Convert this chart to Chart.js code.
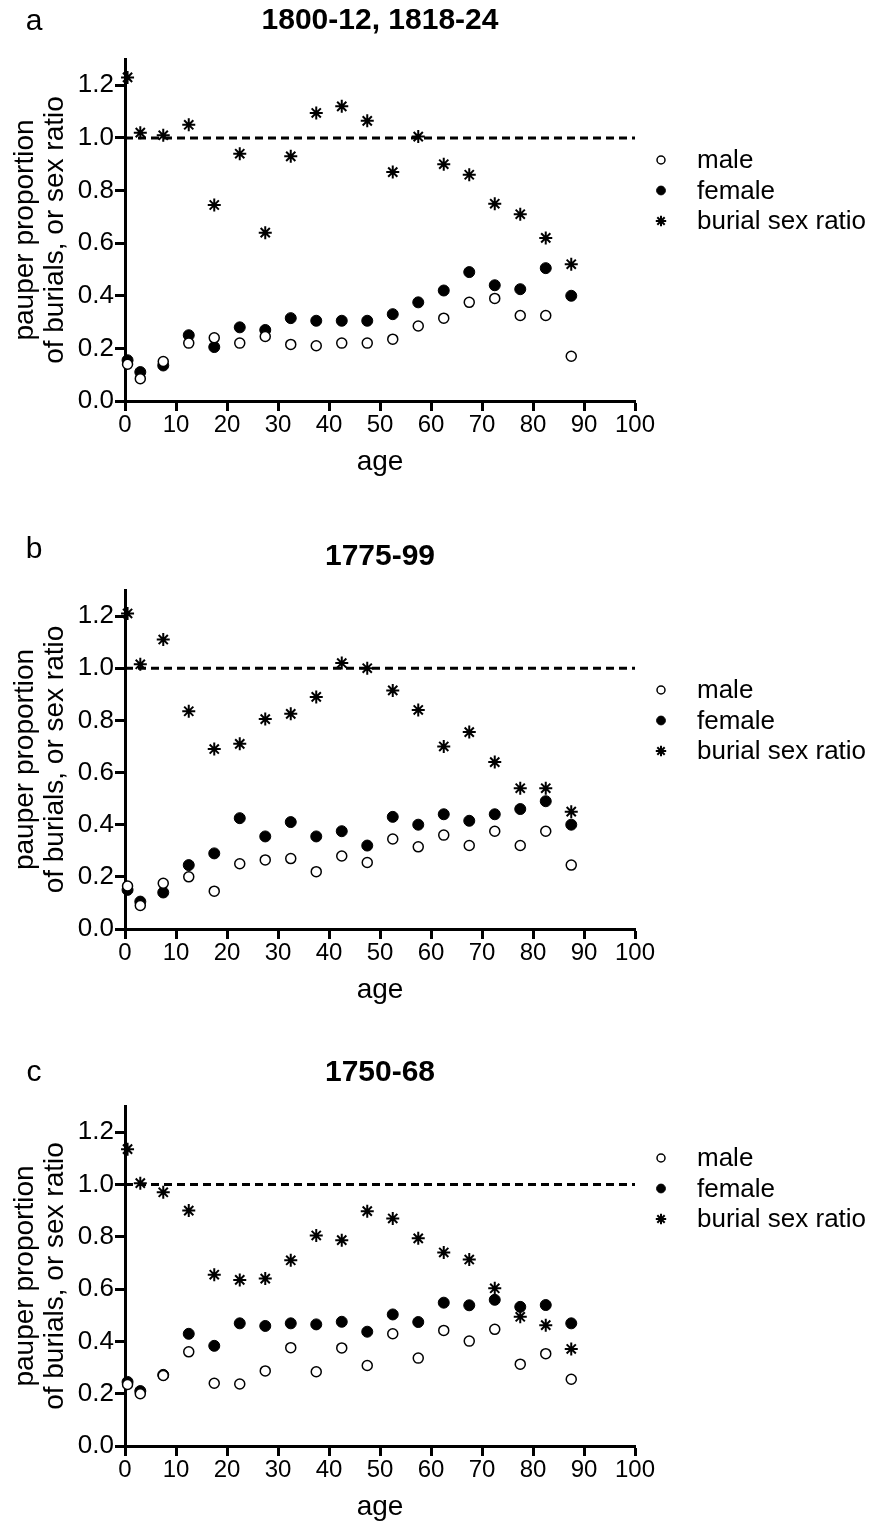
<!DOCTYPE html>
<html>
<head>
<meta charset="utf-8">
<script src="https://cdn.jsdelivr.net/npm/chart.js@4.4.1/dist/chart.umd.min.js"></script>
<style>
  html, body { margin: 0; padding: 0; background: #fff; }
  #wrap { position: relative; width: 877px; height: 1527px; }
  .panel { position: absolute; left: 0; width: 877px; }
  canvas { display: block; }
</style>
</head>
<body>
<div id="wrap">
  <div class="panel" style="top:0px"><canvas id="panelA" width="877" height="500"></canvas></div>
  <div class="panel" style="top:510px"><canvas id="panelB" width="877" height="500"></canvas></div>
  <div class="panel" style="top:1000px"><canvas id="panelC" width="877" height="527"></canvas></div>
</div>
<script>
/* datos */

// edad (punto medio de cada grupo)
const ages = [0.5, 3, 7.5, 12.5, 17.5, 22.5, 27.5, 32.5, 37.5, 42.5, 47.5, 52.5, 57.5, 62.5, 67.5, 72.5, 77.5, 82.5, 87.5];

// a: 1800-12, 1818-24
const maleA   = [0.14, 0.085, 0.15, 0.22, 0.24, 0.22, 0.245, 0.215, 0.21, 0.22, 0.22, 0.235, 0.285, 0.315, 0.375, 0.39, 0.325, 0.325, 0.17];
const femaleA = [0.155, 0.11, 0.135, 0.25, 0.205, 0.28, 0.27, 0.315, 0.305, 0.305, 0.305, 0.33, 0.375, 0.42, 0.49, 0.44, 0.425, 0.505, 0.40];
const ratioA  = [1.23, 1.02, 1.01, 1.05, 0.745, 0.94, 0.64, 0.93, 1.095, 1.12, 1.065, 0.87, 1.005, 0.90, 0.86, 0.75, 0.71, 0.62, 0.52];

// b: 1775-99
const maleB   = [0.165, 0.09, 0.175, 0.20, 0.145, 0.25, 0.265, 0.27, 0.22, 0.28, 0.255, 0.345, 0.315, 0.36, 0.32, 0.375, 0.32, 0.375, 0.245];
const femaleB = [0.15, 0.105, 0.14, 0.245, 0.29, 0.425, 0.355, 0.41, 0.355, 0.375, 0.32, 0.43, 0.40, 0.44, 0.415, 0.44, 0.46, 0.49, 0.40];
const ratioB  = [1.21, 1.015, 1.11, 0.835, 0.69, 0.71, 0.805, 0.825, 0.89, 1.02, 1.0, 0.915, 0.84, 0.70, 0.755, 0.64, 0.54, 0.54, 0.45];

// c: 1750-68
const maleC   = [0.235, 0.20, 0.27, 0.36, 0.24, 0.237, 0.287, 0.376, 0.284, 0.375, 0.308, 0.429, 0.336, 0.442, 0.401, 0.446, 0.313, 0.353, 0.255];
const femaleC = [0.245, 0.21, 0.272, 0.429, 0.383, 0.469, 0.459, 0.469, 0.465, 0.475, 0.437, 0.503, 0.474, 0.548, 0.538, 0.559, 0.532, 0.539, 0.469];
const ratioC  = [1.135, 1.005, 0.97, 0.90, 0.655, 0.635, 0.64, 0.71, 0.805, 0.787, 0.898, 0.87, 0.794, 0.74, 0.713, 0.603, 0.494, 0.462, 0.371];

const titles  = ['1800-12, 1818-24', '1775-99', '1750-68'];
const letters = ['a', 'b', 'c'];
const seriesLabels = ['male', 'female', 'burial sex ratio'];

const xTicks = [0, 10, 20, 30, 40, 50, 60, 70, 80, 90, 100];
const yTicks = [0, 0.2, 0.4, 0.6, 0.8, 1.0, 1.2];
const yMax = 1.3;
const refLine = 1.0; // linea de referencia (razon 1:1)

/* estilo */
const FONT = "'Liberation Sans', Arial, Helvetica, sans-serif";
Chart.defaults.font.family = FONT;
Chart.defaults.color = '#000';

function toPoints(ys) {
    return ys.map((y, i) => ({x: ages[i], y: y}));
}

// letra, titulo y leyenda de cada panel
const panelDecor = {
    id: 'panelDecor',
    afterDraw(chart, args, opts) {
        const ctx = chart.ctx;
        const area = chart.chartArea;
        ctx.save();
        ctx.fillStyle = '#000';
        ctx.textBaseline = 'middle';

        ctx.font = '30px ' + FONT;
        ctx.textAlign = 'center';
        ctx.fillText(opts.letter, 34, opts.letterY);

        ctx.font = 'bold 30px ' + FONT;
        ctx.fillText(opts.title, (area.left + area.right) / 2, opts.titleY);

        // leyenda
        ctx.font = '26px ' + FONT;
        ctx.textAlign = 'left';
        let row = 0;
        chart.data.datasets.forEach(ds => {
            if (!ds.label) return;
            let y = opts.legendY + row * 30.5;
            ctx.fillStyle = ds.backgroundColor;
            ctx.strokeStyle = ds.borderColor;
            ctx.lineWidth = ds.borderWidth;
            Chart.helpers.drawPoint(ctx, {
                pointStyle: ds.pointStyle,
                radius: ds.pointRadius * 0.8,
                rotation: 0,
                borderWidth: ds.borderWidth
            }, 661, y);
            ctx.fillStyle = '#000';
            ctx.fillText(ds.label, 697, y + 1);
            row++;
        });
        ctx.restore();
    }
};

function crearPanel(canvasId, male, female, ratio, idx, layout) {
    let ctx = document.getElementById(canvasId).getContext('2d');
    return new Chart(ctx, {
        type: 'scatter',
        data: {
            datasets: [{
                label: seriesLabels[0],
                data: toPoints(male),
                pointStyle: 'circle',
                pointRadius: 5,
                backgroundColor: '#fff',
                borderColor: '#000',
                borderWidth: 1.5,
                clip: false
            }, {
                label: seriesLabels[1],
                data: toPoints(female),
                pointStyle: 'circle',
                pointRadius: 5.5,
                backgroundColor: '#000',
                borderColor: '#000',
                borderWidth: 1,
                clip: false
            }, {
                label: seriesLabels[2],
                data: toPoints(ratio),
                pointStyle: 'star',
                pointRadius: 6.5,
                backgroundColor: '#000',
                borderColor: '#000',
                borderWidth: 2,
                clip: false
            }, {
                type: 'line',
                label: '',
                data: [{x: xTicks[0], y: refLine}, {x: xTicks[xTicks.length - 1], y: refLine}],
                borderColor: '#000',
                borderWidth: 3,
                borderDash: [8, 5],
                pointRadius: 0,
                fill: false
            }]
        },
        options: {
            responsive: false,
            animation: false,
            devicePixelRatio: 1,
            layout: {
                padding: {left: 0, right: 242, top: layout.top, bottom: layout.bottom}
            },
            plugins: {
                legend: {display: false},
                tooltip: {enabled: false},
                panelDecor: {
                    letter: letters[idx],
                    title: titles[idx],
                    letterY: layout.letterY,
                    titleY: layout.titleY,
                    legendY: layout.legendY
                }
            },
            scales: {
                x: {
                    type: 'linear',
                    min: xTicks[0],
                    max: xTicks[xTicks.length - 1],
                    afterBuildTicks: s => { s.ticks = xTicks.map(v => ({value: v})); },
                    afterFit: s => { s.height = 78; },
                    border: {display: true, color: '#000', width: 3},
                    grid: {drawOnChartArea: false, drawTicks: true, tickLength: 10, tickWidth: 3, tickColor: '#000'},
                    ticks: {font: {size: 24}, padding: 0, maxRotation: 0, color: '#000'},
                    title: {display: true, text: 'age', font: {size: 28}, padding: {top: 0, bottom: 0}, color: '#000'}
                },
                y: {
                    type: 'linear',
                    min: 0,
                    max: yMax,
                    afterBuildTicks: s => { s.ticks = yTicks.map(v => ({value: v})); },
                    afterFit: s => { s.width = 125; },
                    border: {display: true, color: '#000', width: 3},
                    grid: {drawOnChartArea: false, drawTicks: true, tickLength: 10, tickWidth: 3, tickColor: '#000'},
                    ticks: {font: {size: 26}, padding: 1, color: '#000', callback: v => v.toFixed(1)},
                    title: {
                        display: true,
                        text: ['pauper proportion', 'of burials, or sex ratio'],
                        font: {size: 28, lineHeight: 1.07},
                        padding: {top: 10, bottom: 0},
                        color: '#000'
                    }
                }
            }
        },
        plugins: [panelDecor]
    });
}

crearPanel('panelA', maleA, femaleA, ratioA, 0, {top: 59, bottom: 21, letterY: 22, titleY: 21, legendY: 160});
crearPanel('panelB', maleB, femaleB, ratioB, 1, {top: 80, bottom: 3, letterY: 40, titleY: 47, legendY: 180});
crearPanel('panelC', maleC, femaleC, ratioC, 2, {top: 106, bottom: 3, letterY: 73, titleY: 73, legendY: 158});
</script>
</body>
</html>
